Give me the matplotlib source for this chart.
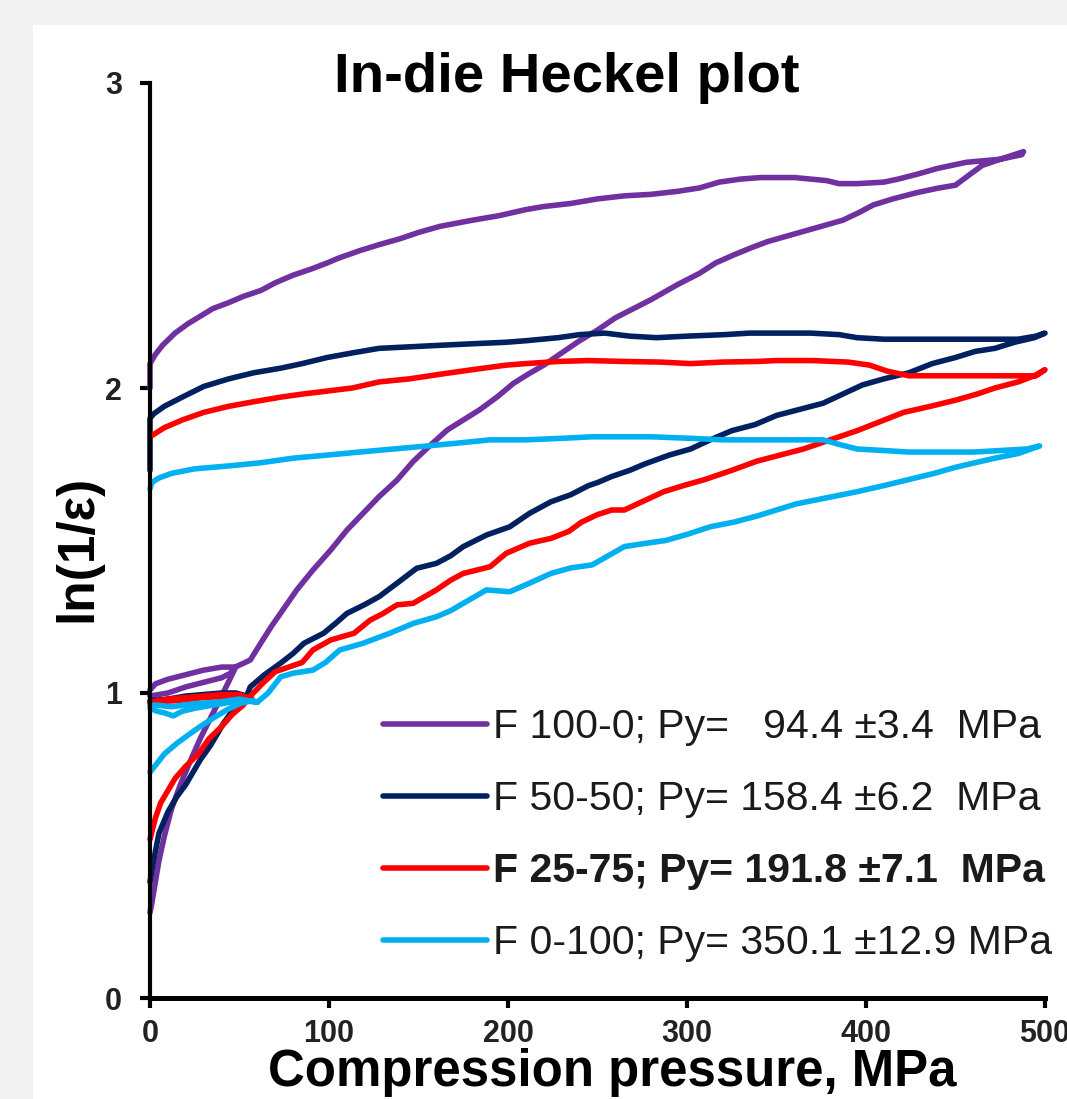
import matplotlib.pyplot as plt
from matplotlib import font_manager
from matplotlib.patches import Rectangle

# --- Data: in-die Heckel cycles (pressure in MPa, ln(1/eps)) ---
# each path: pre-compression strand, gap (nan), loading, unloading
nan = float('nan')

f100_x = [0, 10, 20, 30, 40, 45, 47, 40, 30, 20, 10, 3, 0, nan,
          0, 1, 3, 5, 8, 12, 17, 22, 28, 34, 40, 45, 48, 56, 63, 68, 73, 82, 91,
          101, 110, 119, 128, 138, 147, 156, 166, 175, 184, 194, 203, 212, 220, 230,
          240, 250, 260, 270, 280, 295, 307, 316, 326, 336, 345, 354, 363, 375, 387,
          396, 404, 415, 428, 440, 450, 458, 465, 475, 488,
          487, 475, 456, 440, 428, 418, 410, 395, 385, 378, 360, 341, 330, 318, 307,
          295, 280, 265, 250, 235, 220, 210, 195, 180, 162, 150, 140, 128, 117, 105,
          99, 90, 80, 70, 62, 52, 44, 35, 28, 21, 14, 7, 3, 0, 0]
f100_y = [0.99, 1.00, 1.02, 1.035, 1.05, 1.065, 1.085, 1.085, 1.075, 1.06, 1.045, 1.03, 1.01, nan,
          0.28, 0.31, 0.38, 0.45, 0.53, 0.62, 0.70, 0.77, 0.85, 0.92, 0.99, 1.05, 1.086,
          1.108, 1.174, 1.22, 1.262, 1.338, 1.403, 1.469, 1.534, 1.589, 1.644, 1.698,
          1.759, 1.809, 1.862, 1.895, 1.928, 1.971, 2.015, 2.048, 2.075, 2.115, 2.155,
          2.19, 2.23, 2.26, 2.29, 2.34, 2.376, 2.41, 2.436, 2.46, 2.48, 2.495, 2.51,
          2.53, 2.55, 2.575, 2.60, 2.62, 2.64, 2.655, 2.665, 2.70, 2.73, 2.75, 2.775,
          2.765, 2.75, 2.74, 2.72, 2.70, 2.685, 2.675, 2.67, 2.67, 2.68, 2.69, 2.69, 2.685,
          2.675, 2.656, 2.645, 2.635, 2.63, 2.62, 2.605, 2.595, 2.585, 2.565, 2.55, 2.53,
          2.51, 2.49, 2.47, 2.45, 2.425, 2.41, 2.39, 2.37, 2.345, 2.32, 2.30, 2.28, 2.26,
          2.235, 2.21, 2.18, 2.14, 2.11, 2.08, 2.00]

f50_x = [0, 10, 20, 30, 40, 48, 54, 45, 30, 15, 0, nan,
         0, 2, 5, 10, 15, 20, 28, 34, 41, 47, 54, 56, 64, 73, 80, 86, 97, 104, 110,
         120, 128, 138, 149, 160, 168, 175, 188, 201, 212, 224, 235, 245, 250, 258,
         268, 276, 290, 302, 313, 325, 338, 350, 363, 376, 387, 398, 410, 424, 437,
         450, 461, 472, 483, 494, 500,
         495, 485, 470, 450, 432, 410, 395, 385, 369, 350, 335, 321, 300, 283, 268,
         254, 240, 228, 210, 199, 180, 162, 145, 128, 113, 99, 85, 73, 58, 44, 30,
         18, 8, 2, 0, 0]
f50_y = [0.97, 0.98, 0.99, 0.995, 1.00, 1.00, 0.99, 0.995, 0.99, 0.98, 0.975, nan,
         0.38, 0.45, 0.54, 0.61, 0.66, 0.70, 0.78, 0.83, 0.90, 0.95, 0.99, 1.02, 1.06,
         1.098, 1.13, 1.163, 1.196, 1.23, 1.261, 1.29, 1.316, 1.36, 1.409, 1.425, 1.45,
         1.48, 1.518, 1.545, 1.589, 1.627, 1.65, 1.68, 1.69, 1.71, 1.73, 1.75, 1.78,
         1.80, 1.83, 1.86, 1.88, 1.91, 1.93, 1.95, 1.98, 2.01, 2.03, 2.05, 2.08, 2.10,
         2.12, 2.13, 2.15, 2.165, 2.18,
         2.17, 2.16, 2.16, 2.16, 2.16, 2.16, 2.165, 2.175, 2.18, 2.18, 2.18, 2.175, 2.17,
         2.165, 2.17, 2.18, 2.175, 2.165, 2.155, 2.15, 2.145, 2.14, 2.135, 2.13, 2.115,
         2.10, 2.08, 2.065, 2.05, 2.03, 2.005, 1.97, 1.94, 1.915, 1.90, 1.73]

f25_x = [0, 10, 20, 30, 40, 50, 57, 45, 30, 15, 0, nan,
         0, 3, 6, 9, 14, 20, 27, 33, 40, 46, 52, 56, 63, 70, 78, 85, 91, 101, 114,
         123, 130, 138, 147, 160, 168, 175, 190, 199, 212, 224, 234, 241, 250, 258,
         265, 276, 287, 298, 310, 325, 339, 352, 365, 380, 395, 408, 421, 436, 450,
         462, 472, 485, 494, 500,
         495, 480, 465, 450, 435, 424, 412, 402, 390, 370, 350, 339, 320, 302, 285,
         265, 245, 228, 210, 199, 180, 162, 145, 128, 113, 99, 85, 73, 58, 44, 30,
         18, 8, 0]
f25_y = [0.97, 0.98, 0.985, 0.99, 0.995, 0.995, 0.98, 0.99, 0.985, 0.975, 0.97, nan,
         0.52, 0.59, 0.64, 0.67, 0.72, 0.76, 0.80, 0.85, 0.89, 0.93, 0.96, 0.99, 1.032,
         1.07, 1.086, 1.10, 1.141, 1.174, 1.196, 1.239, 1.26, 1.289, 1.294, 1.338, 1.37,
         1.392, 1.414, 1.458, 1.491, 1.507, 1.53, 1.56, 1.585, 1.60, 1.60, 1.63, 1.66,
         1.68, 1.70, 1.73, 1.76, 1.78, 1.80, 1.83, 1.86, 1.89, 1.92, 1.94, 1.96, 1.98,
         2.00, 2.02, 2.04, 2.06,
         2.04, 2.04, 2.04, 2.04, 2.04, 2.04, 2.055, 2.075, 2.085, 2.09, 2.09, 2.087,
         2.085, 2.08, 2.085, 2.087, 2.09, 2.087, 2.08, 2.075, 2.06, 2.045, 2.03, 2.02,
         2.00, 1.99, 1.98, 1.97, 1.955, 1.94, 1.92, 1.895, 1.87, 1.84]

f0_x = [0, 4, 8, 13, 18, 25, 35, 45, 52, 60, 50, 38, 25, 12, 4, 0, nan,
        0, 4, 8, 15, 22, 28, 36, 43, 50, 57, 60, 66, 73, 80, 91, 98, 106, 119, 134,
        147, 160, 168, 175, 188, 201, 212, 224, 235, 247, 256, 265, 276, 288, 300,
        313, 326, 339, 350, 361, 378, 395, 410, 424, 438, 450, 461, 472, 485, 497,
        490, 475, 460, 440, 424, 410, 395, 385, 376, 360, 339, 320, 302, 280, 247,
        230, 210, 190, 173, 155, 136, 117, 99, 80, 62, 45, 25, 12, 5, 1, 0]
f0_y = [0.95, 0.94, 0.935, 0.925, 0.94, 0.95, 0.96, 0.97, 0.975, 0.97, 0.98, 0.97,
        0.965, 0.955, 0.96, 0.96, nan,
        0.74, 0.77, 0.80, 0.835, 0.865, 0.89, 0.92, 0.945, 0.965, 0.975, 0.97, 1.00,
        1.053, 1.065, 1.075, 1.10, 1.141, 1.163, 1.196, 1.228, 1.25, 1.27, 1.294,
        1.338, 1.332, 1.36, 1.392, 1.41, 1.42, 1.45, 1.48, 1.49, 1.50, 1.52, 1.545,
        1.56, 1.58, 1.60, 1.62, 1.64, 1.66, 1.68, 1.70, 1.72, 1.74, 1.755, 1.77, 1.785,
        1.81,
        1.80, 1.795, 1.79, 1.79, 1.79, 1.795, 1.80, 1.815, 1.83, 1.83, 1.83, 1.83,
        1.835, 1.84, 1.84, 1.835, 1.83, 1.83, 1.82, 1.81, 1.80, 1.79, 1.78, 1.77,
        1.755, 1.745, 1.735, 1.72, 1.705, 1.69, 1.67]

labels = ['F 100-0; Py=   94.4 \u00b13.4  MPa',
          'F 50-50; Py= 158.4 \u00b16.2  MPa',
          'F 25-75; Py= 191.8 \u00b17.1  MPa',
          'F 0-100; Py= 350.1 \u00b112.9 MPa']
colors = ['#7030a0', '#002060', '#ff0000', '#00b0f0']
x_ticks = [0, 100, 200, 300, 400, 500]
y_ticks = [0, 1, 2, 3]

# --- Figure ---
plt.rcParams['font.family'] = ['Liberation Sans', 'DejaVu Sans']

# tick labels in the original are a narrow Arial; use it if it is installed
installed = {f.name for f in font_manager.fontManager.ttflist}
if 'Liberation Sans Narrow' in installed:
    tick_font = {'family': 'Liberation Sans Narrow', 'size': 24, 'weight': 'bold'}
else:
    tick_font = {'family': 'Liberation Sans', 'size': 22, 'weight': 'bold'}

W, H = 1067, 1099
fig = plt.figure(figsize=(W / 100, H / 100), dpi=100, facecolor='#f2f2f2')
fig.patches.append(Rectangle((33 / W, 0), 1, 1 - 25 / H, transform=fig.transFigure,
                             facecolor='white', edgecolor='none', zorder=-10))

ax = fig.add_axes([150 / W, 1 - 998 / H, 895 / W, 915 / H])
ax.set_facecolor('none')
ax.set_zorder(5)

series = [(f100_x, f100_y), (f50_x, f50_y), (f25_x, f25_y), (f0_x, f0_y)]
for (xs, ys), c, lab in zip(series, colors, labels):
    ax.plot(xs, ys, color=c, lw=4.0, label=lab, solid_joinstyle='round',
            solid_capstyle='round', clip_on=False)

ax.set_xlim(0, 500)
ax.set_ylim(0, 3)
ax.set_xticks(x_ticks)
ax.set_yticks(y_ticks)

for s in ['top', 'right']:
    ax.spines[s].set_visible(False)
ax.spines['left'].set_linewidth(3.0)
ax.spines['bottom'].set_linewidth(3.6)

ax.set_xticklabels([str(t) for t in x_ticks], fontdict=tick_font, color='#222222')
ax.set_yticklabels([str(t) for t in y_ticks], fontdict=tick_font, color='#222222')
ax.tick_params(axis='both', direction='out', length=7, width=3.0, color='black')
ax.tick_params(axis='x', pad=8)
ax.tick_params(axis='y', pad=13)

# --- Texts ---
fig.text(567 / W, 1 - 92 / H, 'In-die Heckel plot', fontsize=40.5, fontweight='bold',
         ha='center', va='baseline')
fig.text(612 / W, 1 - 1086 / H, 'Compression pressure, MPa', fontsize=36.7,
         fontweight='bold', ha='center', va='baseline')
fig.text(78 / W, 1 - 548 / H, 'ln(1/\u03b5)', fontsize=37, fontweight='bold',
         rotation=90, ha='center', va='center')

leg = ax.legend(loc='upper left', bbox_to_anchor=(383 / W, 1 - 708 / H),
                bbox_transform=fig.transFigure, frameon=False, fontsize=29.5,
                handlelength=2.54, handletextpad=0.15, labelspacing=0.83,
                borderpad=0, borderaxespad=0)
for t in leg.get_texts():
    t.set_color('#1a1a1a')
leg.get_texts()[2].set_fontweight('bold')

fig.savefig('out.png', dpi=100, facecolor=fig.get_facecolor())
